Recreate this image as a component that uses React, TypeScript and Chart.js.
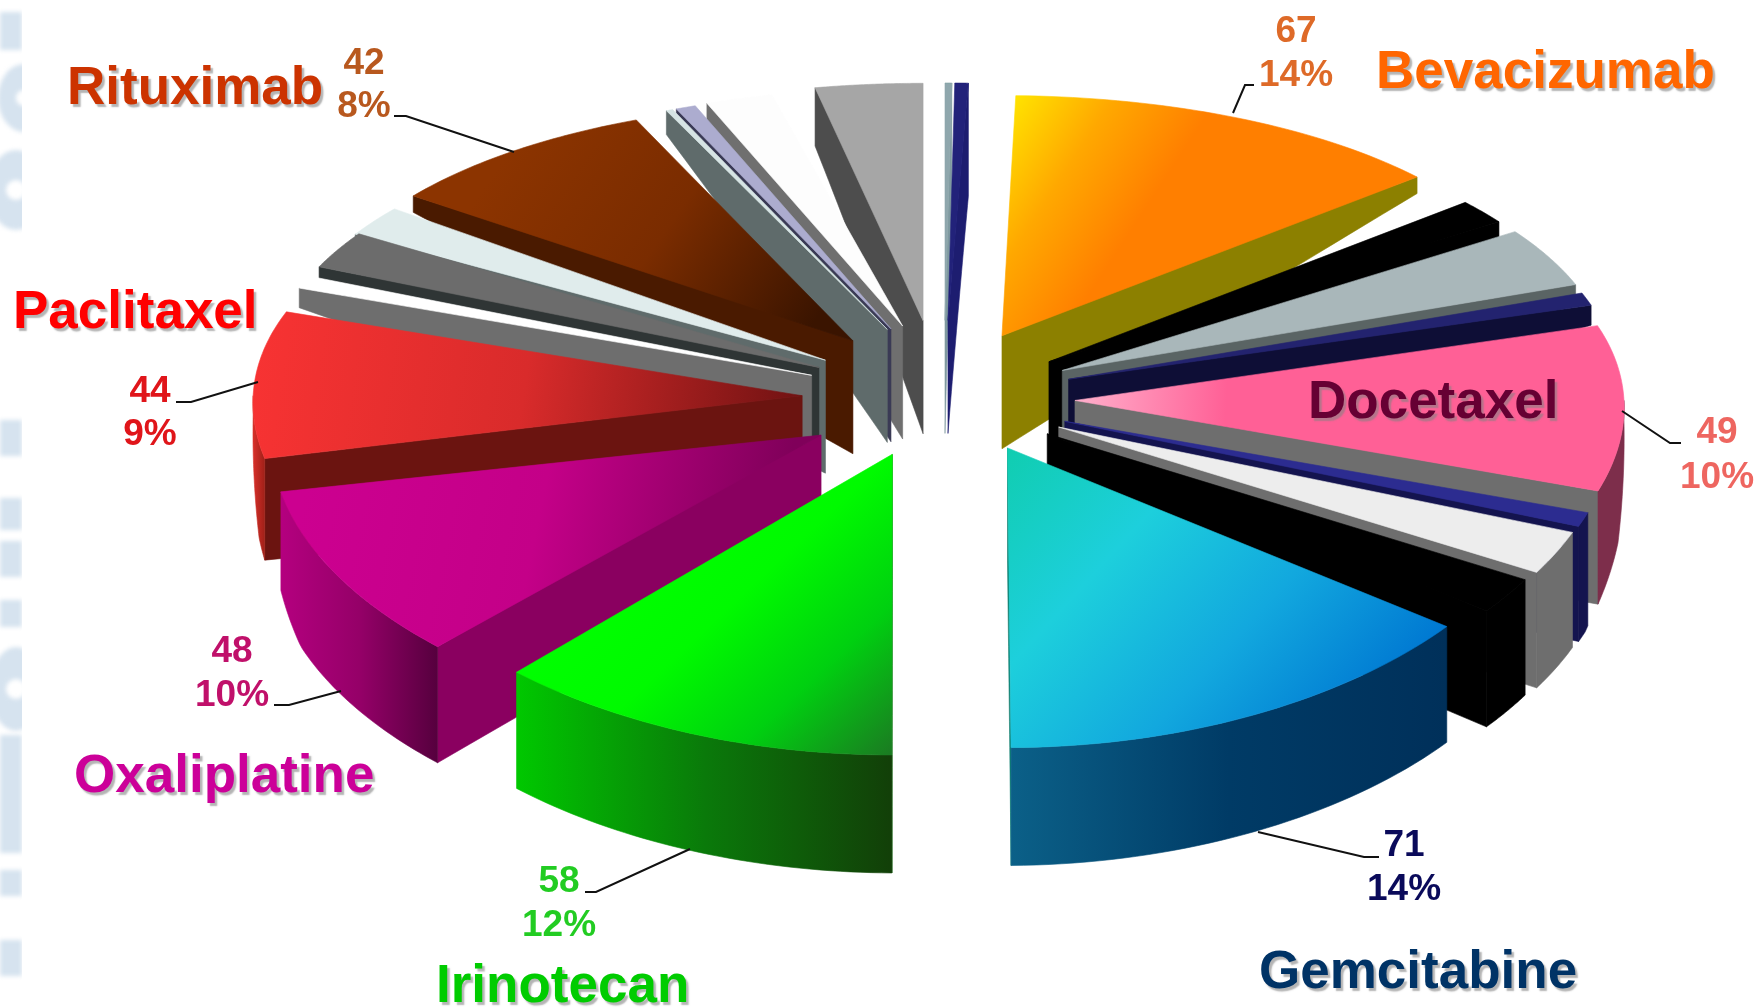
import React, { useEffect, useRef } from "react";
import { Chart, registerables } from "chart.js";

Chart.register(...registerables);

// Patients per regimen, clockwise from twelve o'clock.
const sliceLabels = [
  "Other A", "Other B", "Bevacizumab", "Other C", "Other D", "Other E", "Docetaxel", "Other F",
  "Other G", "Other H", "Gemcitabine", "Irinotecan", "Oxaliplatine", "Paclitaxel", "Other I",
  "Other J", "Other K", "Rituximab", "Other L", "Other M", "Other N", "Other O",
];
const sliceValues = [1, 2, 67, 8, 19, 4, 49, 4, 12, 10, 71, 58, 48, 44, 4, 12, 10, 42, 1, 3, 10, 16];
const sliceExplode = [157, 157, 123, 130, 132, 131, 131, 129, 128, 125, 119, 132, 143, 142, 141, 148, 143, 151, 155, 155, 157, 157];

// Small per-slice corrections to the exploded layout.
const sliceTwist = [0, 0, -0.7, -0.5, 0, 0, 0, 0, 0, 0, 0, 0.4, 1.5, 0, 1, 1.5, -0.5, -2, -2.5, -2.5, -2.5, 0];
const sliceShiftX = [0, 0, 3, 0, 0, 0, 0, 0, 0, 0, 11, -5, 0, 0, 0, 8, 0, 0, 0, 0, 0, -5];
const sliceShiftY = [-3, -3, -10, 0, 0, 0, 0, 0, 0, 0, -4, -6, 0, 0, 0, 0, 0, 0, 0, 0, 0, -3];

// Top face: colour stops and gradient axis in fractions of the face's bounding box.
type Top = { stops: string[]; axis?: number[] };
const topFaces: Top[] = [
  { stops: ["#8FA7AD"] },
  { stops: ["#22227A"] },
  { stops: ["#FFE600", "#FFA800", "#FF7F00", "#FF7F00"], axis: [0.02, 0, 0.55, 0.6] },
  { stops: ["#000000"] },
  { stops: ["#A9B7BA"] },
  { stops: ["#23236F"] },
  { stops: ["#FFB0CC", "#FF6096", "#FF6096"], axis: [0, 0.45, 0.55, 0.55] },
  { stops: ["#2C2C90"] },
  { stops: ["#EDEDED"] },
  { stops: ["#000000"] },
  { stops: ["#10CDB0", "#1DCFDC", "#12A8DE", "#0078D2"], axis: [0, 0, 0.75, 1] },
  { stops: ["#00FF00", "#00FA00", "#00D010", "#1B7A22"], axis: [0.4, 0.2, 1, 1] },
  { stops: ["#CC0090", "#C40088", "#80005A"], axis: [0.05, 0.2, 0.9, 0.65] },
  { stops: ["#F83333", "#D92B2B", "#701212"], axis: [0, 0.1, 1, 0.65] },
  { stops: ["#FFFFFF"] },
  { stops: ["#6C6C6C"] },
  { stops: ["#E0ECEC"] },
  { stops: ["#8C3400", "#7A2C00", "#3A1400"], axis: [0.25, 0.05, 0.9, 0.95] },
  { stops: ["#D6E4E4"] },
  { stops: ["#ACACCF"] },
  { stops: ["#FDFDFD"] },
  { stops: ["#A6A6A6"] },
];
const sideWalls = [
  "#7F9AA0", "#1D1D70", "#8C8000", "#000000", "#5A6464", "#0E0E36", "#6E6E6E", "#14144F",
  "#6E6E6E", "#000000", "#0F7F70", "#0A6A0A", "#8A0060", "#6B1410", "#6E6E6E", "#2F3535",
  "#5F6B6B", "#4A1A00", "#5F6B6B", "#3A3A55", "#6F6F6F", "#4D4D4D",
];
const rimStops = [
  ["#7F9AA0"], ["#1D1D70"], ["#8C8000"], ["#000000"], ["#5A6464"], ["#0E0E36"],
  ["#7D2E4B"], ["#14144F"], ["#6E6E6E"], ["#000000"],
  ["#0B6088", "#003B66", "#00305A"], ["#00C800", "#0A7A0A", "#123F08"],
  ["#B4007F", "#950068", "#56003E"], ["#D8302A", "#A02018"],
  ["#6E6E6E"], ["#2F3535"], ["#5F6B6B"], ["#4A1A00"], ["#5F6B6B"], ["#3A3A55"], ["#6F6F6F"], ["#4D4D4D"],
];

// Drug names.
const nameTexts = ["Bevacizumab", "Docetaxel", "Gemcitabine", "Irinotecan", "Oxaliplatine", "Paclitaxel", "Rituximab"];
const nameColors = ["#FF6600", "#660033", "#003366", "#00CC00", "#CC0099", "#FF0000", "#CC3300"];
const nameAnchors = [[1376, 88], [1308, 418], [1259, 988], [436, 1002], [74, 792], [13, 328], [67, 104]];

// Value and share labels.
const countTexts = ["67", "49", "71", "58", "48", "44", "42"];
const shareTexts = ["14%", "10%", "14%", "12%", "10%", "9%", "8%"];
const figureColors = ["#DE6A28", "#EE6660", "#0A0A5A", "#22CC22", "#C0106A", "#E0151A", "#B8581E"];
const figureAnchors = [[1296, 42, 86], [1717, 443, 488], [1404, 856, 900], [559, 892, 936], [232, 662, 706], [150, 402, 445], [364, 74, 117]];
const leaderPaths = [
  [[1233, 113], [1245, 85], [1254, 85]],
  [[1622, 411], [1670, 443], [1681, 443]],
  [[1258, 832], [1364, 857], [1379, 857]],
  [[690, 849], [596, 892], [585, 892]],
  [[341, 691], [289, 705], [274, 705]],
  [[258, 382], [191, 402], [176, 402]],
  [[514, 152], [406, 116], [394, 116]],
];

// Pale marks down the left margin.
const marginBars = [[0, 12, 22, 38], [0, 420, 22, 36], [0, 498, 22, 32], [0, 541, 22, 36], [0, 600, 22, 27], [0, 735, 22, 118], [0, 870, 22, 26], [0, 940, 22, 36]];
const marginRings = [[24, 98, 26, 34, 8], [16, 190, 28, 40, 10], [16, 689, 26, 42, 10]];

// Wall height at the rim against angular distance from the far side.
const rimDepthAngles = [0, 3, 11, 24, 52, 72, 90, 100, 110, 180];
const rimDepthHeights = [113, 113, 60, 24, 16, 20, 20, 95, 115, 118];
const APEX_DEPTH = 113;

const PIE_RADIUS = 549;
const toTurn = (a: number) => a + Math.PI / 2;

function tiltedY(gy: number) {
  return gy * (0.49 + (0.03 * gy) / PIE_RADIUS);
}

function rimDepth(th: number) {
  const phi = (Math.acos(Math.max(-1, Math.min(1, Math.cos(th)))) * 180) / Math.PI;
  for (let k = 1; k < rimDepthAngles.length; k++) {
    if (phi <= rimDepthAngles[k]) {
      const t = (phi - rimDepthAngles[k - 1]) / (rimDepthAngles[k] - rimDepthAngles[k - 1]);
      return rimDepthHeights[k - 1] + t * (rimDepthHeights[k] - rimDepthHeights[k - 1]);
    }
  }
  return rimDepthHeights[rimDepthHeights.length - 1];
}

function reach(th: number) {
  return PIE_RADIUS * (1 - 0.025 * Math.cos(th));
}

function makeGradient(ctx: CanvasRenderingContext2D, pts: number[][], stops: string[], axis: number[]) {
  if (stops.length === 1) return stops[0];
  const xs = pts.map((p) => p[0]);
  const ys = pts.map((p) => p[1]);
  const x0 = Math.min(...xs);
  const y0 = Math.min(...ys);
  const w = Math.max(...xs) - x0 || 1;
  const h = Math.max(...ys) - y0 || 1;
  const g = ctx.createLinearGradient(x0 + axis[0] * w, y0 + axis[1] * h, x0 + axis[2] * w, y0 + axis[3] * h);
  stops.forEach((c, i) => g.addColorStop(i / (stops.length - 1), c));
  return g;
}

function fillPoly(ctx: CanvasRenderingContext2D, pts: number[][], fill: string | CanvasGradient) {
  ctx.beginPath();
  pts.forEach((p, i) => (i ? ctx.lineTo(p[0], p[1]) : ctx.moveTo(p[0], p[1])));
  ctx.closePath();
  ctx.fillStyle = fill;
  ctx.fill();
  ctx.strokeStyle = fill;
  ctx.lineWidth = 0.6;
  ctx.stroke();
}

function drawArc3D(ctx: CanvasRenderingContext2D, el: any, i: number) {
  const { x, y, startAngle, endAngle } = el.getProps(["x", "y", "startAngle", "endAngle"]);
  const twist = (sliceTwist[i] * Math.PI) / 180;
  const mid = (toTurn(startAngle) + toTurn(endAngle)) / 2;
  const start = toTurn(startAngle) + twist;
  const end = toTurn(endAngle) + twist;
  const off = el.options.offset || 0;
  const ax = off * Math.sin(mid);
  const ay = -off * Math.cos(mid);
  const at = (th: number, frac: number) => {
    const rad = reach(th) * frac;
    return [x + sliceShiftX[i] + ax + rad * Math.sin(th), y + sliceShiftY[i] + tiltedY(ay - rad * Math.cos(th))];
  };

  const wall = (th: number) => {
    const topEdge: number[][] = [];
    const lowEdge: number[][] = [];
    for (let k = 0; k <= 24; k++) {
      const frac = k / 24;
      const p = at(th, frac);
      topEdge.push(p);
      lowEdge.push([p[0], p[1] + APEX_DEPTH + frac * (rimDepth(th) - APEX_DEPTH)]);
    }
    fillPoly(ctx, [...topEdge, ...lowEdge.reverse()], sideWalls[i]);
  };
  if (Math.sin(start) < 0) wall(start);
  if (Math.sin(end) > 0) wall(end);

  const rimFrom = Math.max(start, Math.PI / 2);
  const rimTo = Math.min(end, (3 * Math.PI) / 2);
  if (rimTo > rimFrom) {
    const rim: number[][] = [];
    const low: number[][] = [];
    for (let k = 0; k <= 40; k++) {
      const th = rimFrom + ((rimTo - rimFrom) * k) / 40;
      const p = at(th, 1);
      rim.push(p);
      low.push([p[0], p[1] + rimDepth(th)]);
    }
    const poly = [...rim, ...low.reverse()];
    fillPoly(ctx, poly, makeGradient(ctx, poly, rimStops[i], [0, 0, 1, 0]));
  }

  const face: number[][] = [at(start, 0)];
  for (let k = 0; k <= 40; k++) face.push(at(start + ((end - start) * k) / 40, 1));
  const top = topFaces[i];
  fillPoly(ctx, face, makeGradient(ctx, face, top.stops, top.axis || [0, 0, 1, 1]));
}

const pie3D = {
  id: "pie3D",
  beforeDatasetDraw(chart: any) {
    const ctx = chart.ctx as CanvasRenderingContext2D;
    const arcs = chart.getDatasetMeta(0).data as any[];
    const order = arcs
      .map((el, i) => {
        const m = (toTurn(el.startAngle) + toTurn(el.endAngle)) / 2;
        return { el, i, far: Math.acos(Math.cos(m)) };
      })
      .sort((a, b) => a.far - b.far);
    ctx.save();
    order.forEach(({ el, i }) => drawArc3D(ctx, el, i));
    ctx.restore();
    return false;
  },
  afterDraw(chart: any) {
    const ctx = chart.ctx as CanvasRenderingContext2D;
    ctx.save();
    leaderPaths.forEach((path) => {
      ctx.beginPath();
      path.forEach((p, i) => (i ? ctx.lineTo(p[0], p[1]) : ctx.moveTo(p[0], p[1])));
      ctx.strokeStyle = "#111111";
      ctx.lineWidth = 2;
      ctx.stroke();
    });
    ctx.textBaseline = "alphabetic";
    ctx.textAlign = "center";
    ctx.font = 'bold 37px "Liberation Sans"';
    countTexts.forEach((t, i) => {
      const [cx, y1, y2] = figureAnchors[i];
      ctx.fillStyle = figureColors[i];
      ctx.fillText(t, cx, y1);
      ctx.fillText(shareTexts[i], cx, y2);
    });
    ctx.textAlign = "left";
    ctx.font = 'bold 53px "Liberation Sans"';
    ctx.shadowColor = "rgba(130,130,130,0.6)";
    ctx.shadowOffsetX = 2.5;
    ctx.shadowOffsetY = 2.5;
    ctx.shadowBlur = 1.5;
    nameTexts.forEach((t, i) => {
      ctx.fillStyle = nameColors[i];
      ctx.fillText(t, nameAnchors[i][0], nameAnchors[i][1]);
    });
    ctx.restore();
  },
  beforeDraw(chart: any) {
    const ctx = chart.ctx as CanvasRenderingContext2D;
    ctx.save();
    ctx.fillStyle = "#FFFFFF";
    ctx.fillRect(0, 0, chart.width, chart.height);
    ctx.beginPath();
    ctx.rect(0, 0, 22, chart.height);
    ctx.clip();
    ctx.filter = "blur(2px)";
    ctx.fillStyle = "#D6E3EF";
    marginBars.forEach((b) => ctx.fillRect(b[0], b[1], b[2], b[3]));
    marginRings.forEach((ring) => {
      ctx.beginPath();
      ctx.ellipse(ring[0], ring[1], ring[2], ring[3], 0, 0, Math.PI * 2);
      ctx.ellipse(ring[0], ring[1], ring[4], ring[4], 0, 0, Math.PI * 2, true);
      ctx.fill();
    });
    ctx.restore();
  },
};

export default function App() {
  const canvasRef = useRef<HTMLCanvasElement | null>(null);
  useEffect(() => {
    const chart = new Chart(canvasRef.current as HTMLCanvasElement, {
      type: "doughnut",
      data: {
        labels: sliceLabels,
        datasets: [{ data: sliceValues, offset: sliceExplode, borderWidth: 0 } as any],
      },
      options: {
        animation: false,
        responsive: false,
        cutout: 0,
        rotation: 0,
        events: [],
        layout: { padding: { left: 130, bottom: 210 } },
        plugins: { legend: { display: false }, tooltip: { enabled: false } },
      },
      plugins: [pie3D],
    } as any);
    return () => chart.destroy();
  }, []);
  return (
    <div style={{ position: "fixed", left: 0, top: 0, width: 1758, height: 1008, background: "#fff" }}>
      <canvas ref={canvasRef} width={1758} height={1008} style={{ display: "block" }} />
    </div>
  );
}
